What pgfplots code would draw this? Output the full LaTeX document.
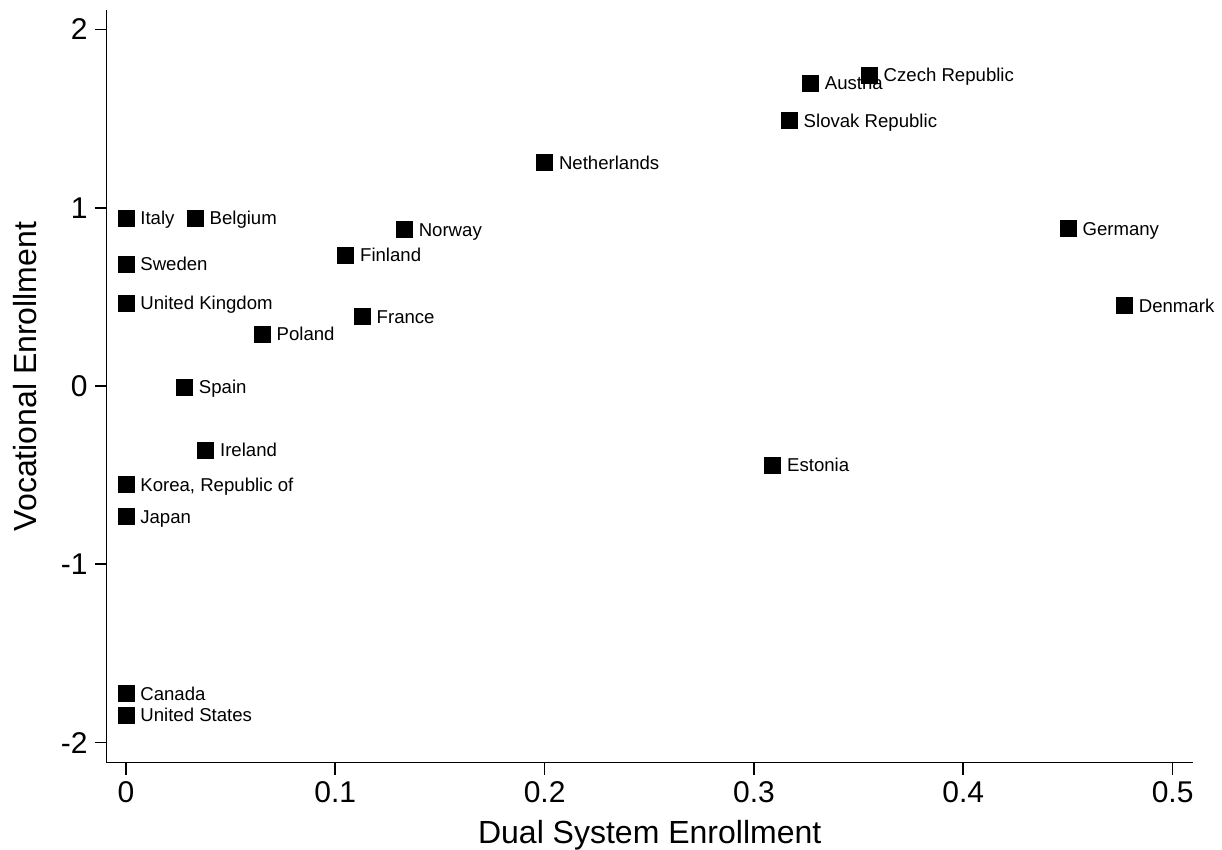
\documentclass[border=0pt]{standalone}
\usepackage{pgfplots}
\usepackage{pgfplotstable}
\pgfplotsset{compat=1.18}
\usepackage{fontspec}
\setmainfont{Liberation Sans}

\pgfplotstableread{
x y label
0      0.942  Italy
0.0331 0.940  Belgium
0      0.682  Sweden
0      0.464  {United Kingdom}
0.0651 0.292  Poland
0.0280 -0.006 Spain
0.0381 -0.359 Ireland
0      -0.553 {Korea, Republic of}
0      -0.733 Japan
0      -1.727 Canada
0      -1.847 {United States}
0.1050 0.735  Finland
0.1129 0.389  France
0.1330 0.877  Norway
0.2000 1.252  Netherlands
0.3169 1.488  {Slovak Republic}
0.3270 1.698  Austria
0.3551 1.743  {Czech Republic}
0.3090 -0.445 Estonia
0.4501 0.882  Germany
0.4770 0.450  Denmark
}\data

\begin{document}
\begin{tikzpicture}
\begin{axis}[
  scale only axis, width=543pt, height=376.35pt,
  xmin=-0.0092, xmax=0.5096, ymin=-2.113, ymax=2.109,
  axis lines=left, axis line style={-, line width=0.8pt, black},
  tick align=outside, major tick length=6pt, tick style={line width=0.8pt, black},
  xtick={0,0.1,0.2,0.3,0.4,0.5}, xticklabels={0,0.1,0.2,0.3,0.4,0.5},
  ytick={-2,-1,0,1,2}, yticklabels={-2,-1,0,1,2},
  ticklabel style={font=\fontsize{15}{18}\selectfont},
  xlabel={Dual System Enrollment}, ylabel={Vocational Enrollment},
  x label style={at={(axis description cs:0.5,-0.1079)}, anchor=base, font=\fontsize{16}{19}\selectfont},
  y label style={at={(axis description cs:-0.0645,0.513)}, anchor=base, font=\fontsize{16}{19}\selectfont},
  clip=false,
]
\addplot[only marks, mark=square*, mark size=4pt, mark options={fill=black, draw=none},
  nodes near coords, point meta=explicit symbolic,
  nodes near coords style={anchor=base west, xshift=7pt, yshift=-3.3pt, inner sep=0pt, font=\fontsize{9.3}{11}\selectfont, black}]
  table[x=x, y=y, meta=label] {\data};
\coordinate (bl) at (rel axis cs:0,0);
\coordinate (tr) at (rel axis cs:1,1);
\end{axis}
\pgfresetboundingbox
\path ([shift={(-53.35pt,-43.65pt)}]bl) rectangle ([shift={(14.65pt,5pt)}]tr);
\end{tikzpicture}
\end{document}
